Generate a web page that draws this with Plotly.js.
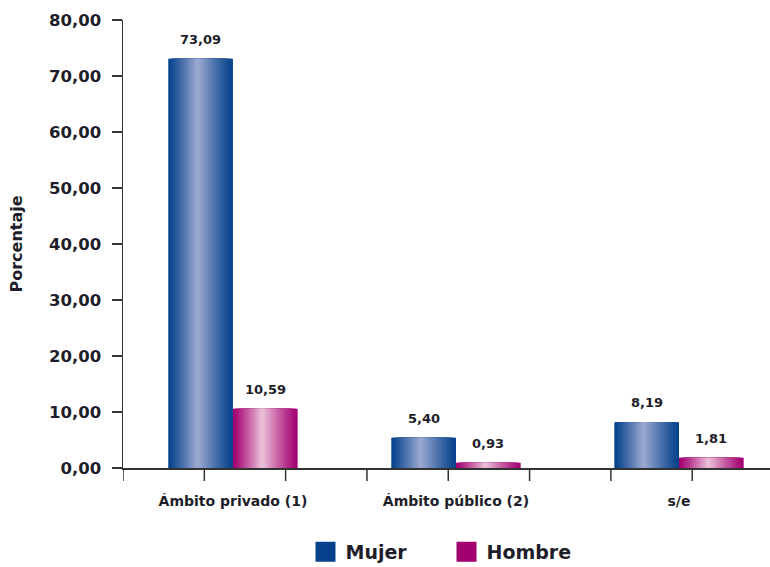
<!DOCTYPE html>
<html>
<head>
<meta charset="utf-8">
<script src="https://cdn.plot.ly/plotly-3.0.1.min.js"></script>
<style>html,body{margin:0;padding:0;background:#fff}</style>
</head>
<body>
<div id="chart" style="width:770px;height:567px"></div>
<script>
// Distribución porcentual por ámbito y sexo
const categories = ['Ámbito privado (1)', 'Ámbito público (2)', 's/e'];
const mujer = [73.09, 5.40, 8.19];
const hombre = [10.59, 0.93, 1.81];
const seriesNames = ['Mujer', 'Hombre'];
const yTicks = [0, 10, 20, 30, 40, 50, 60, 70, 80];

const FONT = 'DejaVu Sans, Verdana, sans-serif';
const TEXT = '#1e1e2a';
const AXIS = '#333333';
const BAR_W = 0.29;      // width of one bar, in category units
const LAYERS = 24;       // nested layers used to shade each bar
const PEAK = 0.45;       // where the highlight sits across the bar

const shades = {
  Mujer:  { edge: [6, 66, 140],  light: [154, 168, 208] },
  Hombre: { edge: [162, 0, 112], light: [234, 190, 216] }
};

function mix(a, b, t) {
  const c = a.map((v, i) => Math.round(v + (b[i] - v) * t));
  return 'rgb(' + c.join(',') + ')';
}

function fmt(v) {
  return v.toFixed(2).replace('.', ',');
}

const xs = categories.map((_, i) => i);
const seriesValues = [mujer, hombre];
const traces = [];
const annotations = [];

seriesValues.forEach((vals, s) => {
  const name = seriesNames[s];
  const pal = shades[name];
  const baseOffset = s === 0 ? -BAR_W : 0;
  for (let k = 0; k < LAYERS; k++) {
    const t = k / LAYERS;
    traces.push({
      type: 'bar',
      x: xs,
      y: vals,
      width: BAR_W * (1 - t),
      offset: baseOffset + PEAK * BAR_W * t,
      marker: { color: mix(pal.edge, pal.light, Math.pow(k / (LAYERS - 1), 1.1)), line: { width: 0 } },
      showlegend: false,
      hoverinfo: 'skip'
    });
  }
  // legend entry
  const solid = mix(pal.edge, pal.edge, 0);
  traces.push({
    type: 'scatter',
    mode: 'markers',
    name: name,
    x: [null],
    y: [null],
    marker: { symbol: 'square', size: 16, color: solid, line: { width: 4, color: solid } },
    hoverinfo: 'skip'
  });
  vals.forEach((v, i) => {
    annotations.push({
      x: i + baseOffset + BAR_W / 2,
      y: v,
      xref: 'x',
      yref: 'y',
      text: fmt(v),
      showarrow: false,
      yanchor: 'bottom',
      yshift: 10,
      font: { family: FONT, size: 13, weight: 'bold', color: TEXT }
    });
  });
});

// evenly spaced tick marks along the category axis
const xRange = [-0.493, 2.408];
const TICK_STEP = 0.3646;
const xTickMarks = [];
for (let k = 0; xRange[0] + k * TICK_STEP <= xRange[1]; k++) xTickMarks.push(xRange[0] + k * TICK_STEP);
const tickShapes = xTickMarks.map(v => ({
  type: 'line',
  layer: 'above',
  xref: 'x',
  yref: 'paper',
  ysizemode: 'pixel',
  yanchor: 0,
  x0: v,
  x1: v,
  y0: 0,
  y1: -13,
  line: { color: AXIS, width: 1.5 }
}));

const layout = {
  width: 770,
  height: 567,
  margin: { l: 123, r: 0, t: 20, b: 99, pad: 0, autoexpand: false },
  paper_bgcolor: '#ffffff',
  plot_bgcolor: '#ffffff',
  separators: ',.',
  barmode: 'overlay',
  font: { family: FONT, color: TEXT },
  showlegend: true,
  xaxis: {
    type: 'linear',
    range: xRange,
    tickmode: 'array',
    tickvals: xs,
    ticktext: categories,
    ticks: '',
    ticklabelstandoff: 20,
    tickfont: { family: FONT, size: 14, weight: 'bold', color: TEXT },
    showline: true,
    linecolor: AXIS,
    linewidth: 1.5,
    showgrid: false,
    zeroline: false,
    automargin: false,
    fixedrange: true
  },
  yaxis: {
    range: [0, 80],
    tickmode: 'array',
    tickvals: yTicks,
    tickformat: '.2f',
    ticks: 'outside',
    ticklen: 10,
    tickwidth: 1.5,
    tickcolor: AXIS,
    ticklabelstandoff: 7,
    showline: true,
    linecolor: AXIS,
    linewidth: 1.5,
    showgrid: false,
    zeroline: false,
    tickfont: { family: FONT, size: 16.5, weight: 'bold', color: TEXT },
    title: { text: 'Porcentaje', standoff: 22, font: { family: FONT, size: 16, weight: 'bold', color: TEXT } },
    automargin: false,
    fixedrange: true
  },
  legend: {
    orientation: 'h',
    x: 0.5,
    xanchor: 'center',
    y: -0.1875,
    yanchor: 'middle',
    entrywidth: 96,
    font: { family: FONT, size: 19, weight: 'bold', color: TEXT },
    bgcolor: 'rgba(0,0,0,0)'
  },
  shapes: tickShapes,
  annotations: annotations
};

Plotly.newPlot('chart', traces, layout, { displayModeBar: false, staticPlot: true });
</script>
</body>
</html>
